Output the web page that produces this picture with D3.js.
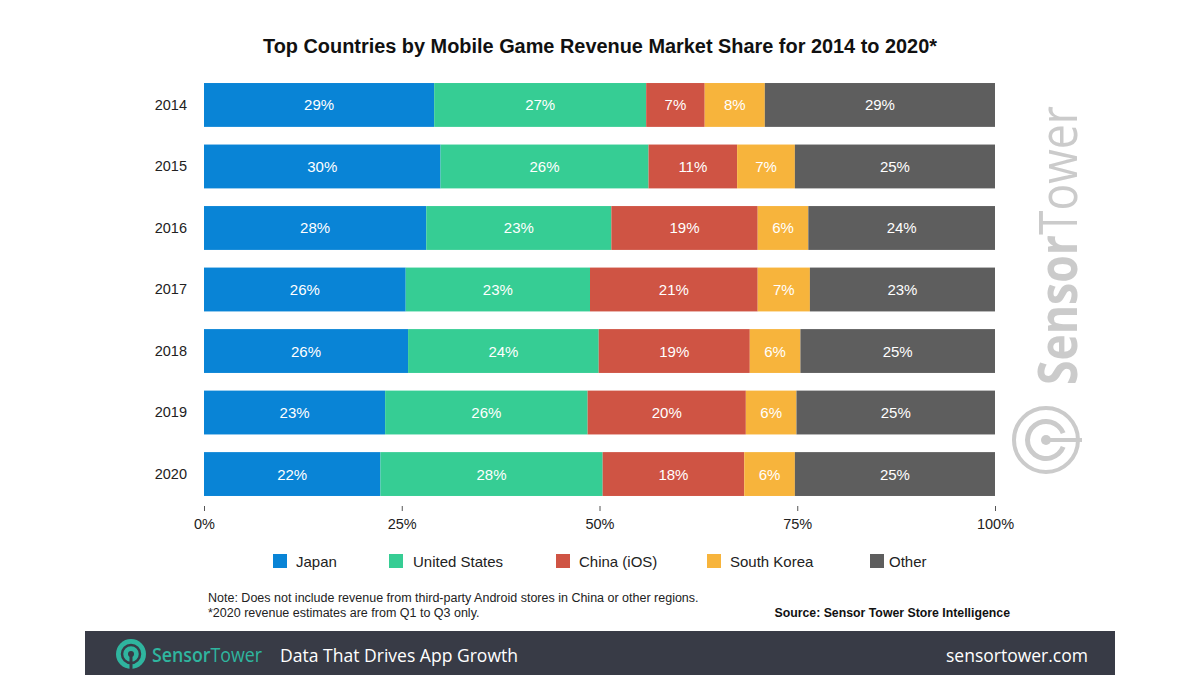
<!DOCTYPE html>
<html><head><meta charset="utf-8">
<script src="https://cdn.jsdelivr.net/npm/d3@7"></script>
<style>body{margin:0;background:#fff}svg{display:block}</style>
</head><body>
<script>
const years = ["2014","2015","2016","2017","2018","2019","2020"];
const seriesNames = ["Japan","United States","China (iOS)","South Korea","Other"];
const japan  = [29.1, 29.9, 28.1, 25.5, 25.8, 22.9, 22.3];
const usa    = [26.8, 26.3, 23.4, 23.3, 24.1, 25.6, 28.1];
const china  = [7.4, 11.2, 18.5, 21.2, 19.1, 20.0, 17.9];
const korea  = [7.6, 7.3, 6.4, 6.6, 6.4, 6.4, 6.4];
const other  = [29.1, 25.3, 23.6, 23.4, 24.6, 25.1, 25.3];
const tickValues = [0, 25, 50, 75, 100];
const colors = ["#0984d6", "#36cd94", "#cf5444", "#f7b43c", "#5e5e5e"];

const W = 1200, H = 675;
const svg = d3.select("body").append("svg").attr("width", W).attr("height", H);
const font = "'Liberation Sans', Arial, sans-serif";

svg.append("text").attr("x", 600).attr("y", 53).attr("text-anchor", "middle")
  .attr("font-family", font).attr("font-weight", "bold").attr("font-size", 20)
  .attr("textLength", 674).attr("lengthAdjust", "spacingAndGlyphs")
  .attr("fill", "#111").text("Top Countries by Mobile Game Revenue Market Share for 2014 to 2020*");

const x = d3.scaleLinear().domain([0, 100]).range([204, 995]);
const y = d3.scaleBand().domain(years).range([74.2, 504.8]).paddingInner(0.287).paddingOuter(0.1435);

const allSeries = [japan, usa, china, korea, other];
const rows = years.map((yr, i) => {
  const o = {year: yr};
  seriesNames.forEach((s, j) => o[s] = allSeries[j][i]);
  return o;
});
const stacked = d3.stack().keys(seriesNames)(rows);

const g = svg.append("g");
stacked.forEach((layer, j) => {
  const lg = g.append("g");
  lg.selectAll("rect").data(layer).join("rect")
    .attr("x", d => x(d[0])).attr("width", d => x(d[1]) - x(d[0]))
    .attr("y", d => y(d.data.year)).attr("height", y.bandwidth())
    .attr("fill", colors[j]);
  lg.selectAll("text").data(layer).join("text")
    .attr("x", d => (x(d[0]) + x(d[1])) / 2)
    .attr("y", d => y(d.data.year) + y.bandwidth() / 2 + 5.5)
    .attr("text-anchor", "middle").attr("font-family", font).attr("font-size", 15)
    .attr("fill", "#fff")
    .text(d => Math.round(d[1] - d[0]) + "%");
});

// year axis
const yAxis = svg.append("g").attr("transform", "translate(187,0)")
  .call(d3.axisLeft(y).tickSize(0).tickPadding(0));
yAxis.select(".domain").remove();
yAxis.selectAll("text").attr("font-family", font).attr("font-size", 14.5).attr("fill", "#222");

// x axis
const xAxis = svg.append("g").attr("transform", "translate(0,506)")
  .call(d3.axisBottom(x).tickValues(tickValues).tickFormat(d => d + "%").tickSize(5).tickPadding(8));
xAxis.select(".domain").remove();
xAxis.selectAll("line").attr("stroke", "#555");
xAxis.selectAll("text").attr("font-family", font).attr("font-size", 14.5).attr("fill", "#222");

// legend
const legendX = [273, 389, 556, 707, 870];
const legendTextX = [296, 413, 579, 730, 889];
const lg = svg.append("g");
seriesNames.forEach((s, j) => {
  lg.append("rect").attr("x", legendX[j]).attr("y", 554).attr("width", 14).attr("height", 14).attr("fill", colors[j]);
  lg.append("text").attr("x", legendTextX[j]).attr("y", 567).attr("font-family", font)
    .attr("font-size", 15).attr("fill", "#222").text(s);
});

// notes
svg.append("text").attr("x", 208).attr("y", 602).attr("font-family", font).attr("font-size", 12.5)
  .attr("fill", "#222").text("Note: Does not include revenue from third-party Android stores in China or other regions.");
svg.append("text").attr("x", 208).attr("y", 617).attr("font-family", font).attr("font-size", 12.5)
  .attr("fill", "#222").text("*2020 revenue estimates are from Q1 to Q3 only.");
svg.append("text").attr("x", 1010).attr("y", 617).attr("text-anchor", "end").attr("font-family", font)
  .attr("font-size", 12.3).attr("font-weight", "bold").attr("fill", "#111").text("Source: Sensor Tower Store Intelligence");

// watermark
const wm = svg.append("g").attr("transform", "translate(1077,385) rotate(-90) scale(0.84,1)");
const wt = wm.append("text").attr("font-family", "'Open Sans', sans-serif").attr("font-size", 53).attr("fill", "#cbcbcb");
wt.append("tspan").attr("font-weight", "bold").text("Sensor");
wt.append("tspan").text("Tower");
const wl = svg.append("g").attr("transform", "translate(1046,440)");
wl.append("circle").attr("r", 32).attr("fill", "none").attr("stroke", "#cbcbcb").attr("stroke-width", 4);
const arc = d3.arc().innerRadius(16).outerRadius(21).startAngle(Math.PI * 0.62).endAngle(Math.PI * 2.38);
wl.append("path").attr("d", arc()).attr("fill", "#cbcbcb");
wl.append("circle").attr("r", 5).attr("fill", "#cbcbcb");
wl.append("line").attr("x1", 0).attr("y1", 0).attr("x2", 36).attr("y2", 0).attr("stroke", "#cbcbcb").attr("stroke-width", 4);

// footer
svg.append("rect").attr("x", 85).attr("y", 631).attr("width", 1030).attr("height", 44).attr("fill", "#383b46");
const fl = svg.append("g").attr("transform", "translate(131,654)");
fl.append("circle").attr("r", 15).attr("fill", "#2fb59f");
fl.append("circle").attr("r", 9).attr("fill", "none").attr("stroke", "#383b46").attr("stroke-width", 2.5);
fl.append("rect").attr("x", -1.5).attr("y", 0).attr("width", 3).attr("height", 15).attr("fill", "#383b46");
fl.append("circle").attr("r", 3).attr("fill", "#383b46");
const fg = svg.append("g").attr("transform", "translate(152,662) scale(0.89,1)");
const ft = fg.append("text").attr("font-family", "'Open Sans', sans-serif").attr("font-size", 20).attr("fill", "#2fb59f");
ft.append("tspan").attr("font-weight", "600").text("Sensor");
ft.append("tspan").text("Tower");
svg.append("text").attr("x", 280).attr("y", 662).attr("font-family", "'Open Sans', sans-serif").attr("font-size", 19).attr("fill", "#fff")
  .attr("textLength", 238).attr("lengthAdjust", "spacingAndGlyphs").text("Data That Drives App Growth");
svg.append("text").attr("x", 1088).attr("y", 662).attr("text-anchor", "end").attr("font-family", "'Open Sans', sans-serif").attr("font-size", 19).attr("fill", "#fff")
  .attr("textLength", 142).attr("lengthAdjust", "spacingAndGlyphs").text("sensortower.com");
</script>
</body></html>
